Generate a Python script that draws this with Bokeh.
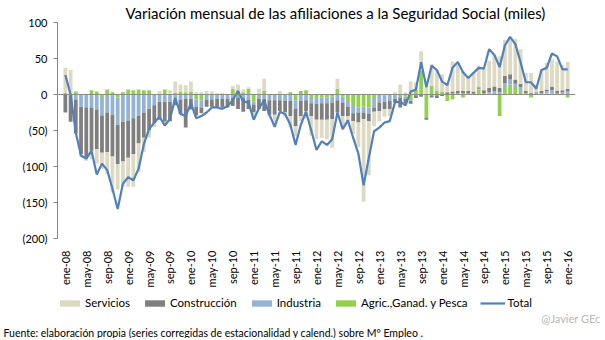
import math
import numpy as np
from bokeh.plotting import figure
from bokeh.layouts import column
from bokeh.models import (ColumnDataSource, Range1d, FixedTicker, Span, Legend,
                          LegendItem, Title)
from bokeh.embed import file_html
from bokeh.resources import INLINE

# ---------------- data (miles) ----------------
tick_labels = ["ene-08", "may-08", "sep-08", "ene-09", "may-09", "sep-09", "ene-10",
               "may-10", "sep-10", "ene-11", "may-11", "sep-11", "ene-12", "may-12",
               "sep-12", "ene-13", "may-13", "sep-13", "ene-14", "may-14", "sep-14",
               "ene-15", "may-15", "sep-15", "ene-16"]

servicios = [35, 33, 0, -3, -4, -12, -20, -22, -30, -50, -35, -35,
             -40, -45, -40, -20, -10, -5, 4, -3, 5, 16, 10, 10,
             14, 3, 3, 5, 4, 2, 2, 0, 4, 12, 4, 2,
             -4, 8, 17, -3, -16, 5, -7, -16, -14, -7, -10, -27,
             -27, -25, -27, -40, 14, -18, -8, -18, -34, -115, -75, -20,
             -14, -11, -10, 3, 14, 3, 18, 10, 27, 10, 30, 29,
             24, 12, 42, 37, 28, 20, 27, 30, 30, 38, 43, 44,
             50, 52, 56, 48, 25, 28, 11, 30, 37, 38, 41, 35,
             37]
construccion = [-25, -37, -47, -66, -70, -60, -55, -52, -55, -58, -55, -55,
                -52, -50, -38, -35, -30, -25, -25, -28, -27, -8, -20, -40,
                -15, -12, -8, -10, -10, -12, -12, -12, -12, -16, -19, -13,
                -11, -14, -17, -20, -20, -15, -16, -21, -24, -21, -15, -18,
                -22, -23, -23, -23, -17, -19, -13, -11, -14, -9, -10, -6,
                -12, -10, -11, -5, -14, -6, -4, -4, -3, -3, -3, -4,
                -2, 3, 3, 3, 3, 3, 3, 2, 4, 6, 6, 6,
                10, 7, 6, 5, 3, 1, 1, 3, 2, 5, 3, 3,
                4]
industria = [0, -1, -7, -17, -18, -18, -21, -24, -25, -28, -38, -38,
             -36, -33, -30, -25, -20, -15, -10, -10, -10, -7, -7, -6,
             -6, -10, -10, -5, -7, -6, -6, -6, -4, -4, -5, -7,
             -4, -6, -6, -8, -8, -8, -9, -9, -12, -9, -8, -7,
             -8, -8, -8, -8, -8, -8, -8, -10, -7, -8, -9, -13,
             -9, -9, -9, -6, -4, -3, -1, -1, 0, 0, -1, -1,
             0, 0, 1, 2, 2, 2, 1, 1, 2, 2, 3, 3,
             7, 7, 6, 5, 2, 1, 2, 2, 4, 5, 2, 3,
             4]
agricultura = [2, 1, 4, 0, 0, 6, 4, -5, 7, 3, -4, 3,
               7, 6, 7, 6, 6, 0, 1, 7, 1, 2, 4, 3,
               4, -7, -8, -2, 0, 0, 0, 0, 8, 2, 3, 8,
               -10, 0, 5, 0, 0, 0, 0, 3, -8, 5, 6, -5,
               -5, -4, -4, -3, 8, -3, -9, -16, -18, -17, -18, -5,
               -2, -1, 0, 0, 0, -3, -8, 7, 33, -32, 12, 5,
               4, -9, -7, 0, -4, 0, 0, 7, 0, 1, 2, -30,
               9, 14, 9, 5, 0, -4, 0, 0, 1, 1, 0, 0,
               -4]
total = [27, 0, -53, -85, -89, -78, -111, -96, -105, -131, -159, -124,
         -115, -119, -103, -69, -48, -39, -31, -43, -34, -5, -27, -30,
         -12, -33, -30, -25, -18, -18, -20, -16, -8, 5, -10, -11,
         -35, -19, -8, -28, -45, -24, -27, -42, -70, -42, -24, -50,
         -77, -65, -70, -62, -25, -48, -36, -60, -82, -126, -88, -51,
         -46, -39, -37, -11, -10, -15, 4, 7, 45, 10, 40, 34,
         18, 13, 37, 45, 31, 23, 30, 37, 36, 63, 55, 38,
         68, 80, 70, 45, 17, 17, 8, 34, 37, 57, 53, 35,
         35]

series_names = ["Servicios", "Construcción", "Industria", "Agric.,Ganad. y Pesca"]
series_colors = {"Servicios": "#DDD9C3", "Construcción": "#7F7F7F",
                 "Industria": "#95B3D7", "Agric.,Ganad. y Pesca": "#92D050"}
total_color = "#4F81BD"

# ---------------- main chart ----------------
n = len(total)
x = np.arange(n)
FONT = "Lato"

p = figure(width=605, height=290, output_backend="svg", toolbar_location=None,
           x_range=Range1d(-1.5, 97.5), y_range=Range1d(-200, 100),
           min_border_left=57, min_border_right=30, min_border_top=22,
           min_border_bottom=50)
p.outline_line_color = None
p.xgrid.grid_line_color = None
p.ygrid.grid_line_color = None
p.background_fill_color = "white"
p.border_fill_color = "white"

p.title.text = "Variación mensual de las afiliaciones a la Seguridad Social (miles)"
p.title.align = "left"
p.title.offset = 68
p.title.text_font = FONT
p.title.text_font_size = "15px"
p.title.text_font_style = "normal"
p.title.text_color = "#000000"
p.title.standoff = 2

stack_order = [("Agric.,Ganad. y Pesca", agricultura),
               ("Industria", industria),
               ("Construcción", construccion),
               ("Servicios", servicios)]

pos_base = np.zeros(n)
neg_base = np.zeros(n)
for name, vals in stack_order:
    a = np.array(vals, dtype=float)
    pos = np.clip(a, 0, None)
    neg = np.clip(a, None, 0)
    src = ColumnDataSource(dict(x=x, pb=pos_base.copy(), pt=pos_base + pos,
                                nb=neg_base.copy(), nt=neg_base + neg))
    p.vbar(x="x", bottom="pb", top="pt", width=0.72, fill_color=series_colors[name],
           line_color=None, source=src)
    p.vbar(x="x", bottom="nb", top="nt", width=0.72, fill_color=series_colors[name],
           line_color=None, source=src)
    pos_base = pos_base + pos
    neg_base = neg_base + neg

zero = Span(location=0, dimension="width", line_color="#8A8F84", line_width=1)
p.add_layout(zero)

tsrc = ColumnDataSource(dict(x=x, y=total))
p.line(x="x", y="y", line_color=total_color, line_width=2.2, source=tsrc)

yax = p.yaxis[0]
yax.ticker = FixedTicker(ticks=[-200, -150, -100, -50, 0, 50, 100])
yax.major_label_overrides = {100: "100", 50: "50", 0: "0", -50: "(50)",
                             -100: "(100)", -150: "(150)", -200: "(200)"}
yax.axis_line_color = "#868686"
yax.major_tick_line_color = "#868686"
yax.major_tick_out = 4
yax.major_tick_in = 0
yax.minor_tick_line_color = None
yax.major_label_text_font = FONT
yax.major_label_text_font_size = "11px"
yax.major_label_text_color = "#000000"
yax.major_label_standoff = 6

xax = p.xaxis[0]
xax.ticker = FixedTicker(ticks=list(range(0, 97, 4)))
xax.major_label_overrides = {i * 4: lab for i, lab in enumerate(tick_labels)}
xax.major_label_orientation = math.pi / 2
xax.axis_line_color = None
xax.major_tick_line_color = None
xax.minor_tick_line_color = None
xax.major_label_text_font = FONT
xax.major_label_text_font_size = "11px"
xax.major_label_text_color = "#000000"
xax.major_label_standoff = 6

# ---------------- legend + source strip ----------------
q = figure(width=605, height=48, output_backend="svg", toolbar_location=None,
           x_range=Range1d(0, 1), y_range=Range1d(0, 1),
           x_axis_location=None, y_axis_location=None,
           min_border=0)
q.outline_line_color = None
q.xgrid.grid_line_color = None
q.ygrid.grid_line_color = None
q.background_fill_color = "white"
q.border_fill_color = "white"

# legend glyph carriers, kept outside the visible range
off = ColumnDataSource(dict(x=[-10, -9], y=[-10, -10], t=[-9, -9]))
items = []
for name in series_names:
    r = q.vbar(x="x", top="t", bottom="y", width=0.5, fill_color=series_colors[name],
               line_color=None, source=off)
    items.append(LegendItem(label=name, renderers=[r]))
rt = q.line(x="x", y="y", line_color=total_color, line_width=2.2, source=off)
items.append(LegendItem(label="Total", renderers=[rt]))

leg = Legend(items=items, orientation="horizontal", location=(0, 0),
             glyph_width=25, glyph_height=8, label_standoff=3, spacing=12,
             padding=0, margin=0, border_line_color=None, label_height=12,
             background_fill_alpha=0, label_text_font=FONT,
             label_text_font_size="11.5px", label_text_color="#000000")
q.add_layout(leg)

wm = Title(text="@Javier GEc", align="right", offset=-25, standoff=0,
           text_font=FONT, text_font_size="11px", text_font_style="normal",
           text_color="#B8B8B8")
q.add_layout(wm, "below")
foot = Title(text="Fuente: elaboración propia (series corregidas de estacionalidad y calend.) sobre Mº Empleo .",
             align="left", offset=-54, standoff=0, text_font=FONT,
             text_font_size="10.5px", text_font_style="normal", text_color="#000000")
q.add_layout(foot, "below")

layout = column(p, q, spacing=0)
open("out.html", "w").write(file_html(layout, INLINE))
